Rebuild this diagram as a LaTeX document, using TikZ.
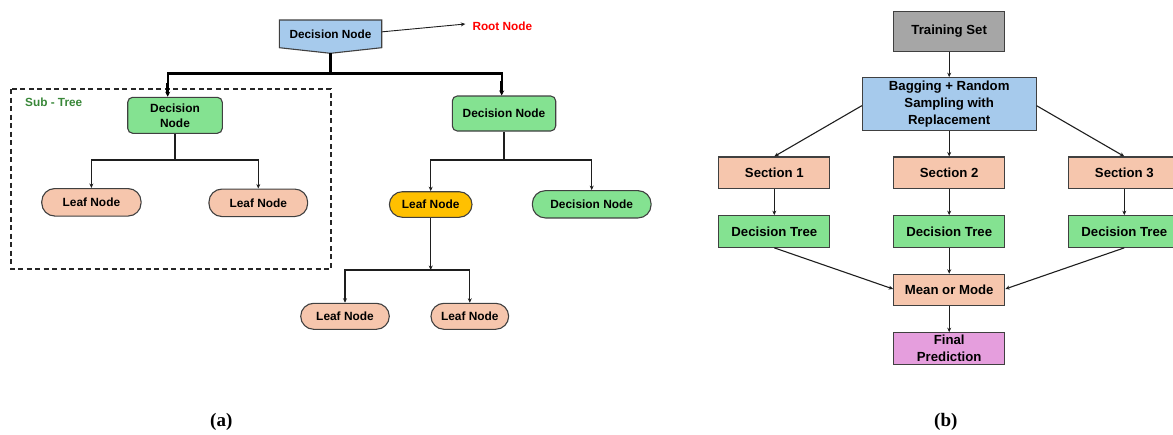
\documentclass[tikz,border=0pt]{standalone}
\usepackage{fontspec}
\setsansfont{Liberation Sans}
\newfontfamily\capfont{Liberation Serif}
\usetikzlibrary{arrows.meta,calc}
\definecolor{cgreen}{RGB}{132,226,145}
\definecolor{csalmon}{RGB}{246,198,173}
\definecolor{cblue}{RGB}{166,202,236}
\definecolor{cgray}{RGB}{166,166,166}
\definecolor{corange}{RGB}{255,192,0}
\definecolor{cpink}{RGB}{229,158,221}
\definecolor{cborder}{RGB}{64,64,64}
\definecolor{cline}{RGB}{30,30,30}
\definecolor{cred}{RGB}{255,0,0}
\definecolor{csub}{RGB}{56,135,56}
\tikzset{
  base/.style={draw=cborder, line width=1.1pt, inner sep=0pt, align=center,
    font=\sffamily\bfseries\fontsize{11.9}{15}\selectfont},
  rbox/.style={base, rounded corners=5pt},
  pill/.style={base, rounded corners=13pt},
  sqbox/.style={base, minimum width=111pt, minimum height=31.6pt,
    font=\sffamily\bfseries\fontsize{13.2}{17}\selectfont},
  arr/.style={draw=cline, line width=1.1pt, -{Stealth[length=4.5pt,width=4pt]}},
  plain/.style={draw=cline, line width=1.1pt},
  thickline/.style={draw=black, line width=2.4pt},
  thickarr/.style={draw=black, line width=3pt, -{Stealth[length=5pt,width=5pt]}},
  lbl/.style={inner sep=0pt, font=\sffamily\bfseries\fontsize{11.8}{14}\selectfont},
  captxt/.style={inner sep=0pt, font=\capfont\bfseries\fontsize{19}{22}\selectfont}
}
\begin{document}
\begin{tikzpicture}[x=1pt, y=-1pt]
\useasboundingbox (0,0) rectangle (1173,434);

% ---------- (a) decision tree ----------
\coordinate (rNW) at (279.3,20);
\coordinate (rNE) at (381.7,20);
\coordinate (rSE) at (381.7,47.7);
\coordinate (rootTip) at (330.5,53.3);
\coordinate (rSW) at (279.3,47.7);
\filldraw[fill=cblue, draw=cborder, line width=1.1pt] (rNW) -- (rNE) -- (rSE) -- (rootTip) -- (rSW) -- cycle;
\node[lbl, minimum width=102.4pt, minimum height=27.7pt] (root) at (330.5,33.85) {Decision Node};

\node[lbl, text=cred, anchor=west] (rootlbl) at (472.3,26.5) {Root Node};
\draw[arr, line width=0.9pt] ([yshift=2pt]root.east) -- ($(rootlbl.west)+(-7,-2.5)$);

\draw[draw=black!85, line width=1.3pt, dash pattern=on 5pt off 3.5pt] (11,89) rectangle (331,269);
\node[lbl, text=csub, anchor=west] (sublbl) at (25,102.7) {Sub - Tree};

\node[rbox, fill=cgreen, minimum width=94.6pt, minimum height=36pt] (ldec) at (175,115.3) {Decision\\Node};
\node[rbox, fill=cgreen, minimum width=103.4pt, minimum height=35pt] (rdec) at (504,113.5) {Decision Node};

\node[pill, fill=csalmon, minimum width=99.3pt, minimum height=27.5pt] (leafA) at (91.4,202.3) {Leaf Node};
\node[pill, fill=csalmon, minimum width=98.7pt, minimum height=27.5pt] (leafB) at (258.3,202.8) {Leaf Node};

\node[pill, fill=corange, minimum width=82.7pt, minimum height=25.6pt] (oleaf) at (430.7,204.5) {Leaf Node};
\node[pill, fill=cgreen, minimum width=118.7pt, minimum height=27.3pt] (gpill) at (591.7,204.3) {Decision Node};

\node[pill, fill=csalmon, minimum width=88.6pt, minimum height=26pt] (leafC) at (345,316.3) {Leaf Node};
\node[pill, fill=csalmon, minimum width=77.7pt, minimum height=26pt] (leafD) at (469.8,316.3) {Leaf Node};

\coordinate (split) at (330.5,73.3);
\draw[thickline] (rootTip) -- (split);
\draw[thickline] (split) -| ($(ldec.north)+(-7.3,-3)$);
\draw[thickarr] ($(ldec.north)+(-7.3,-14)$) -- ($(ldec.north)+(-7.3,0)$);
\draw[thickline] (split) -| ($(rdec.north)+(-2.3,-3)$);
\draw[thickarr] ($(rdec.north)+(-2.3,-14)$) -- ($(rdec.north)+(-2.3,0)$);

\coordinate (lj) at (175,160);
\draw[plain] (ldec.south) -- (lj);
\draw[arr] (lj) -| (leafA.north);
\draw[arr] (lj) -| (leafB.north);

\coordinate (rj) at (504,160);
\draw[plain] (rdec.south) -- (rj);
\draw[arr] (rj) -| (oleaf.north);
\draw[arr] (rj) -| (gpill.north);

\coordinate (oj) at (430.7,270);
\draw[arr] (oleaf.south) -- (oj);
\draw[arr] (oj) -| (leafC.north);
\draw[arr] (oj) -| (leafD.north);

\node[captxt] (capa) at (221.3,421.5) {(a)};

% ---------- (b) random forest ----------
\node[sqbox, fill=cgray, minimum height=40.3pt] (ts) at (949.2,31.2) {Training Set};
\node[sqbox, fill=cblue, minimum width=173.7pt, minimum height=52.6pt] (bag) at (949.2,104) {Bagging + Random\\Sampling with\\Replacement};
\node[sqbox, fill=csalmon] (s1) at (774.3,172.8) {Section 1};
\node[sqbox, fill=csalmon] (s2) at (949.2,172.8) {Section 2};
\node[sqbox, fill=csalmon] (s3) at (1124.3,172.8) {Section 3};
\node[sqbox, fill=cgreen] (d1) at (774.3,231.5) {Decision Tree};
\node[sqbox, fill=cgreen] (d2) at (949.2,231.5) {Decision Tree};
\node[sqbox, fill=cgreen] (d3) at (1124.3,231.5) {Decision Tree};
\node[sqbox, fill=csalmon, minimum height=31.4pt] (mm) at (949.2,290) {Mean or Mode};
\node[sqbox, fill=cpink, font=\sffamily\bfseries\fontsize{13.2}{16.5}\selectfont] (fp) at (949.2,348.5) {Final\\Prediction};

\draw[arr] (ts) -- (bag);
\draw[arr] ([yshift=-1.7pt]bag.west) -- (s1.north);
\draw[arr] ([yshift=-1.7pt]bag.east) -- (s3.north);
\draw[arr] (bag) -- (s2);
\draw[arr] (s1) -- (d1);
\draw[arr] (s2) -- (d2);
\draw[arr] (s3) -- (d3);
\draw[arr] (d1.south) -- ([yshift=1pt]mm.west);
\draw[arr] (d3.south) -- ([yshift=1pt]mm.east);
\draw[arr] (d2) -- (mm);
\draw[arr] (mm) -- (fp);

\node[captxt] (capb) at (945.8,421.5) {(b)};
\end{tikzpicture}
\end{document}
